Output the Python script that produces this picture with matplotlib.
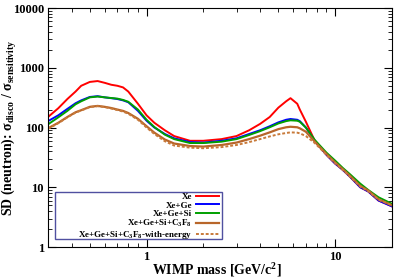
import numpy as np
import matplotlib.pyplot as plt
from matplotlib.patches import Rectangle
from matplotlib.ticker import LogLocator, NullFormatter, FixedLocator, FixedFormatter

plt.rcParams['font.family'] = 'Liberation Serif'
plt.rcParams['font.weight'] = 'bold'
plt.rcParams['mathtext.fontset'] = 'custom'
plt.rcParams['mathtext.rm'] = 'Liberation Serif:bold'
plt.rcParams['mathtext.it'] = 'Liberation Serif:bold'
plt.rcParams['mathtext.bf'] = 'Liberation Serif:bold'

# --- WIMP mass grid (GeV/c^2) ---
mass = [0.3, 0.34, 0.38, 0.42, 0.45, 0.5, 0.55, 0.6, 0.65, 0.7, 0.75, 0.8, 0.9,
        1.0, 1.1, 1.25, 1.4, 1.7, 2.0, 2.5, 3.0, 3.5, 4.0, 4.5, 5.0, 5.5, 5.8,
        6.3, 6.5, 7.0, 7.8, 9.0, 10, 11, 12, 13.6, 15, 17, 20]

# --- ratio sigma_disco / sigma_sensitivity ---
xe = [150, 210, 300, 400, 500, 580, 600, 560, 520, 500, 470, 400, 250,
      160, 120, 90, 72, 60, 60, 64, 72, 90, 115, 150, 215, 275, 310,
      250, 200, 125, 60, 35, 25, 19.5, 15, 10, 8.5, 6, 4.8]
xe_ge = [128, 160, 205, 255, 285, 325, 335, 320, 310, 300, 285, 265, 190,
         130, 100, 78, 66, 57, 56, 60, 66, 78, 90, 105, 122, 135, 139,
         135, 128, 100, 60, 35, 25, 19.5, 15, 10, 8.5, 6, 4.8]
xe_ge_si = [113, 148, 190, 245, 275, 320, 330, 320, 312, 305, 290, 270, 200,
            135, 102, 76, 64, 55, 55, 58, 64, 75, 87, 101, 117, 128, 132,
            130, 125, 100, 62, 38, 28, 21, 16.5, 11.5, 9, 6.8, 5.3]
xe_ge_si_c3f8 = [97, 120, 150, 180, 195, 222, 230, 222, 212, 200, 190, 175, 140,
                 105, 82, 63, 54, 49, 48, 51, 56, 64, 73, 83, 94, 101, 103,
                 101, 97, 85, 58, 36, 26, 20, 15.5, 10.5, 8.8, 6.3, 5.0]
with_energy = [95, 118, 148, 178, 193, 220, 228, 220, 208, 196, 185, 170, 135,
               100, 78, 59, 50, 46, 45, 47, 51, 57, 64, 71, 77, 81, 83,
               82, 80, 72, 55, 35, 25.5, 19.5, 15, 10.3, 8.6, 6.2, 5.0]

fig = plt.figure(figsize=(3.95, 2.78), dpi=100)
ax = fig.add_axes([0.1215, 0.1115, 0.8705, 0.8595])

ax.plot(mass, xe, color="#ff0000", lw=1.4, label="Xe")
ax.plot(mass, xe_ge, color="#0000ff", lw=1.4, label="Xe+Ge")
ax.plot(mass, xe_ge_si, color="#00a000", lw=1.4, label="Xe+Ge+Si")
ax.plot(mass, xe_ge_si_c3f8, color="#b8662a", lw=1.6, label=r"Xe+Ge+Si+C$_3$F$_8$")
ax.plot(mass, with_energy, color="#c87a3a", lw=1.4, ls=(0, (1.5, 1)),
        label=r"Xe+Ge+Si+C$_3$F$_8$-with-energy")

ax.set_xscale("log")
ax.set_yscale("log")
ax.set_xlim(0.3, 20)
ax.set_ylim(1, 10000)

ax.xaxis.set_major_locator(FixedLocator([1, 10]))
ax.xaxis.set_major_formatter(FixedFormatter(["1", "10"]))
ax.xaxis.set_minor_locator(LogLocator(base=10, subs=np.arange(2, 10)))
ax.xaxis.set_minor_formatter(NullFormatter())
ax.yaxis.set_major_locator(FixedLocator([1, 10, 100, 1000, 10000]))
ax.yaxis.set_major_formatter(FixedFormatter(["1", "10", "100", "1000", "10000"]))
ax.yaxis.set_minor_locator(LogLocator(base=10, subs=np.arange(2, 10)))
ax.yaxis.set_minor_formatter(NullFormatter())

ax.tick_params(which="both", direction="in", top=True, right=True, labelsize=9, pad=3)
ax.tick_params(which="major", length=6, width=0.8)
ax.tick_params(which="minor", length=3, width=0.6)
for lbl in ax.get_xticklabels() + ax.get_yticklabels():
    lbl.set_fontweight("bold")

ax.set_xlabel(r"WIMP mass [GeV/c$^2$]", fontsize=10, fontweight="bold")
ax.xaxis.set_label_coords(0.49, -0.058)
ax.set_ylabel(r"SD (neutron): σ$_{\mathrm{disco}}$ / σ$_{\mathrm{sensitivity}}$",
              fontsize=10, fontweight="bold")
ax.yaxis.set_label_coords(-0.085, 0.5)

# legend: labels right-aligned, handles on the right, thin navy frame
leg = ax.legend(loc="upper right", bbox_to_anchor=(0.497, 0.226), markerfirst=False,
                fontsize=6.5, frameon=False, handlelength=2.5,
                labelspacing=0.0, borderpad=0, handletextpad=0.45, borderaxespad=0)
ax.add_patch(Rectangle((0.02, 0.033), 0.486, 0.197, transform=ax.transAxes,
                       fill=False, edgecolor="#5050a0", lw=1.0, zorder=5))

plt.savefig("out.png", dpi=100)
